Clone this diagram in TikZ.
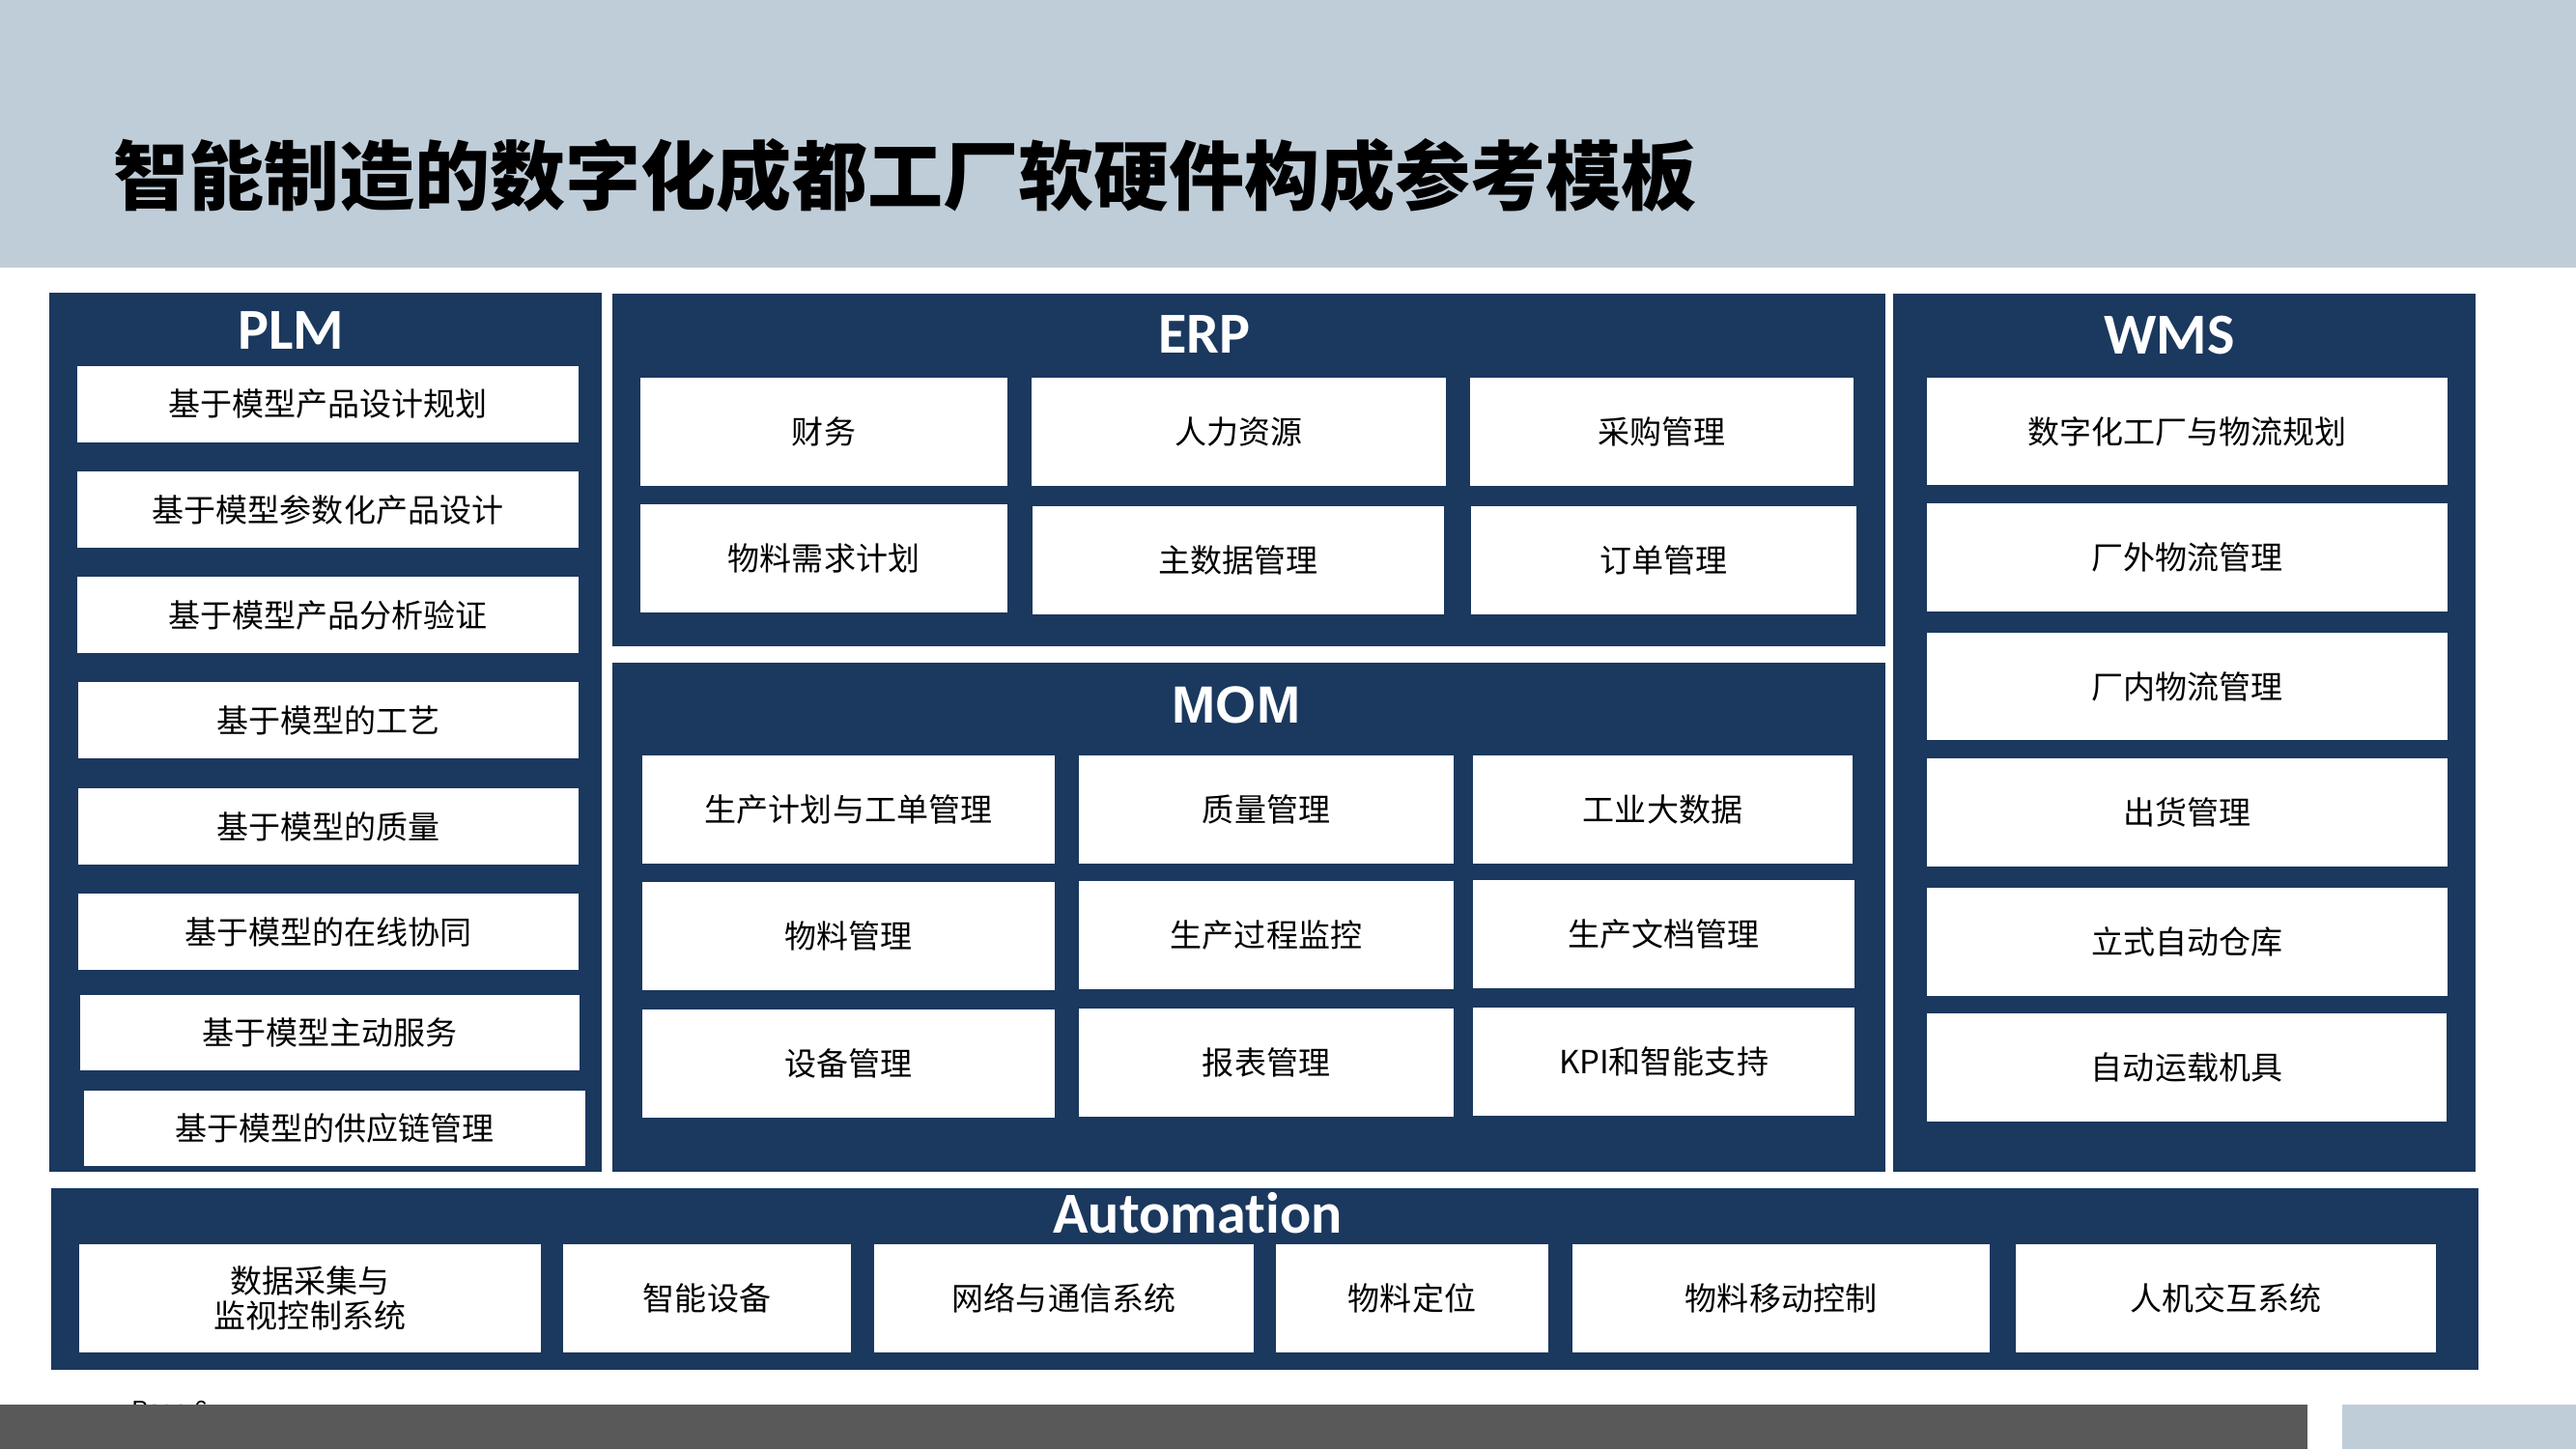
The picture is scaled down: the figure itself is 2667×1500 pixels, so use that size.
\documentclass[tikz,border=0pt]{standalone}
\usepackage{fontspec}
\setmainfont{Noto Sans CJK SC}
\newfontfamily\cjk{Noto Sans CJK SC}
\newfontfamily\labfont[Ligatures=NoCommon]{Carlito}
\newfontfamily\momfont{Liberation Sans}
\usetikzlibrary{fit}
\definecolor{navy}{HTML}{1B385E}
\definecolor{hdr}{HTML}{BFCDD8}
\definecolor{barg}{HTML}{595959}
\begin{document}
\begin{tikzpicture}[x=0.01cm,y=-0.01cm,
  panel/.style={fill=navy,draw=none,inner sep=0pt},
  band/.style={draw=none,inner sep=0pt},
  wbox/.style={fill=white,draw=none,inner sep=0pt},
  btext/.style={inner sep=0pt,align=center,text=black,
    font=\cjk\fontsize{9.39}{10.24}\selectfont},
  ptitle/.style={text=white,inner sep=0pt,font=\labfont\bfseries\fontsize{17.07}{20}\selectfont},
  mtitle/.style={text=white,inner sep=0pt,font=\momfont\bfseries\fontsize{15.4}{18}\selectfont},
]
\newcommand\wb[4]{\node[wbox,fit={#2},label={[btext]center:{#4}}] (#1) {};}
\useasboundingbox (0,0) rectangle (2667,1500);
\fill[white] (0,0) rectangle (2667,1500);
% header
\node[band,fill=hdr,fit={(0,0)(2667,277)}] (header) {};
\node[anchor=west,inner sep=0pt,text=black,font=\cjk\bfseries\fontsize{22.19}{26}\selectfont] (title) at (117,182) {智能制造的数字化成都工厂软硬件构成参考模板};

% PLM
\node[panel,fit={(51,303)(623,1213)}] (plm) {};
\node[ptitle] (plmt) at (301,342) {PLM};
\wb{p1}{(80,379)(599,458)}{}{基于模型产品设计规划}
\wb{p2}{(80,488)(599,567)}{}{基于模型参数化产品设计}
\wb{p3}{(80,597)(599,676)}{}{基于模型产品分析验证}
\wb{p4}{(81,706)(599,785)}{}{基于模型的工艺}
\wb{p5}{(81,816)(599,895)}{}{基于模型的质量}
\wb{p6}{(81,925)(599,1004)}{}{基于模型的在线协同}
\wb{p7}{(83,1030)(600,1108)}{}{基于模型主动服务}
\wb{p8}{(87,1129)(606,1207)}{}{基于模型的供应链管理}

% ERP
\node[panel,fit={(634,304)(1952,669)}] (erp) {};
\node[ptitle] (erpt) at (1247,346) {ERP};
\wb{e1}{(663,391)(1043,503)}{}{财务}
\wb{e2}{(1068,391)(1497,503)}{}{人力资源}
\wb{e3}{(1522,391)(1919,503)}{}{采购管理}
\wb{e4}{(663,522)(1043,634)}{}{物料需求计划}
\wb{e5}{(1069,524)(1495,636)}{}{主数据管理}
\wb{e6}{(1523,524)(1922,636)}{}{订单管理}

% MOM
\node[panel,fit={(634,686)(1952,1213)}] (mom) {};
\node[mtitle] (momt) at (1280,730) {MOM};
\wb{m1}{(665,782)(1092,894)}{}{生产计划与工单管理}
\wb{m2}{(1117,782)(1505,894)}{}{质量管理}
\wb{m3}{(1525,782)(1918,894)}{}{工业大数据}
\wb{m4}{(665,913)(1092,1025)}{}{物料管理}
\wb{m5}{(1117,912)(1505,1024)}{}{生产过程监控}
\wb{m6}{(1525,911)(1920,1023)}{}{生产文档管理}
\wb{m7}{(665,1045)(1092,1157)}{}{设备管理}
\wb{m8}{(1117,1044)(1505,1156)}{}{报表管理}
\wb{m9}{(1525,1043)(1920,1155)}{}{KPI和智能支持}

% WMS
\node[panel,fit={(1960,304)(2563,1213)}] (wms) {};
\node[ptitle] (wmst) at (2246,347) {WMS};
\wb{w1}{(1995,391)(2534,502)}{}{数字化工厂与物流规划}
\wb{w2}{(1995,521)(2534,633)}{}{厂外物流管理}
\wb{w3}{(1995,655)(2534,766)}{}{厂内物流管理}
\wb{w4}{(1995,785)(2534,897)}{}{出货管理}
\wb{w5}{(1995,919)(2534,1031)}{}{立式自动仓库}
\wb{w6}{(1995,1049)(2533,1161)}{}{自动运载机具}

% Automation
\node[panel,fit={(53,1230)(2566,1418)}] (aut) {};
\node[ptitle] (autt) at (1240,1256) {Automation};
\wb{a1}{(82,1288)(560,1400)}{}{数据采集与\\监视控制系统}
\wb{a2}{(583,1288)(881,1400)}{}{智能设备}
\wb{a3}{(905,1288)(1298,1400)}{}{网络与通信系统}
\wb{a4}{(1321,1288)(1603,1400)}{}{物料定位}
\wb{a5}{(1628,1288)(2060,1400)}{}{物料移动控制}
\wb{a6}{(2087,1288)(2522,1400)}{}{人机交互系统}

% footer
\node[anchor=north west,inner sep=0pt,text=black,font=\momfont\fontsize{7}{8}\selectfont] (page) at (136,1450) {Page 6};
\node[band,fill=barg,fit={(0,1454)(2389,1500)}] (gbar) {};
\node[band,fill=hdr,fit={(2425,1454)(2667,1500)}] (bbar) {};
\end{tikzpicture}
\end{document}
